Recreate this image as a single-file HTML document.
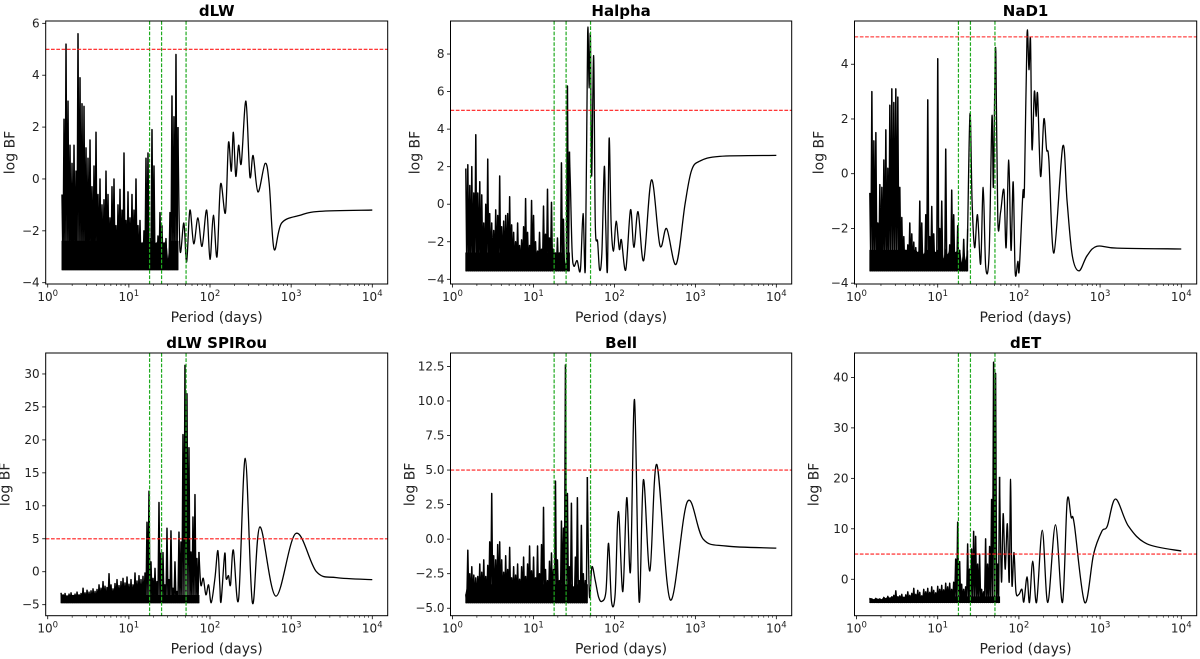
<!DOCTYPE html>
<html><head><meta charset="utf-8"><style>
body{margin:0;background:#fff;}
svg{display:block;font-family:"DejaVu Sans","Liberation Sans",sans-serif;}
</style></head><body>
<svg id="fig" width="1200" height="659" viewBox="0 0 1200 659" xmlns="http://www.w3.org/2000/svg"></svg>
<script>
// ---- data ----
const markerPeriods = [18, 25.3, 50.7];
const thresholdValue = 5;
const xTickExponents = [0, 1, 2, 3, 4];

const dlwNoiseRange = [1.5, 40.3];
const dlwFloor = -3.5;
const dlwBandTop = -2.4;
const dlwNoisePeaks = [-0.6,2.3,5.2,3.0,1.3,0.6,1.3,0.3,5.6,3.9,2.9,2.8,1.2,0.8,1.5,-0.3,0.5,1.8,-0.6,0.0,-1.0,-0.8,0.3,-0.6,-1.5,-0.3,0.0,-1.8,-1.0,-0.4,-1.2,1.0,-1.6,-0.5,-1.5,-0.6,-1.2,0.0,-1.8,-1.6,-2.5,-2.0,0.8,1.0,-2.3,1.9,0.5,-2.5,-2.2,-1.3,-1.8,-2.5,-2.3,-3.3,-1.3,3.2,2.4,4.8,2.0];
const dlwPeriods = [42.6,47.6,51.5,56.5,63,71,79.7,91,100,110,122,135,155,169,183,194,208,225,243,277,310,340,390,478,537,615,763,1290,2240,10000];
const dlwValues = [-2.7,-1.7,-3.2,-1.2,-2.5,-1.5,-2.6,-1.2,-3.1,-1.4,-3.0,-0.2,-1.3,1.4,0.3,1.8,0.1,1.3,0.6,3.0,0.1,0.9,-0.5,0.6,-0.2,-2.7,-1.7,-1.4,-1.25,-1.2];

const halphaNoiseRange = [1.46, 27.8];
const halphaFloor = -3.55;
const halphaBandTop = -2.6;
const halphaNoisePeaks = [1.9,2.1,1.0,2.0,0.6,3.7,0.6,1.2,0.5,-1.0,0.0,2.4,-0.5,-1.0,-1.4,-0.3,-0.6,1.5,-1.2,-0.9,-0.6,-0.5,0.4,-1.1,-1.5,-2.0,-1.0,-2.2,-1.9,-1.2,0.3,-1.5,-2.2,0.2,-0.6,-2.0,-2.5,-1.5,-2.4,-0.1,-1.6,0.8,-1.8,0.1,-2.4,-2.6,-1.8,-2.6,2.2,-0.8,-3.4,6.3,2.8];
const halphaPeriods = [28.6,30,31.6,34.6,38,41,43.8,46.7,48.6,50.5,52.3,55.4,58,62,65.6,70,75,78,82,86,91,97.6,105,115,122,138,158,174,196,230,287,365,442,578,745,897,1140,2000,10000];
const halphaValues = [1.0,-2.5,-3.3,-3.0,-3.5,-0.5,-3.3,9.1,6.2,9.0,1.5,7.9,-1.0,-2.0,-3.5,-2.6,2.0,-1.0,-3.5,3.5,-1.0,-2.5,-0.9,-2.4,-1.9,-3.5,-0.3,-2.3,-0.4,-3.0,1.3,-2.2,-1.3,-3.2,0.0,1.8,2.3,2.55,2.6];

const nad1NoiseRange = [1.46, 23.4];
const nad1Floor = -3.55;
const nad1BandTop = -2.8;
const nad1NoisePeaks = [-0.7,3.0,1.2,1.5,-1.8,-0.4,-0.5,0.5,1.6,0.2,2.5,3.1,2.6,3.1,2.8,-0.5,-1.6,-2.3,-2.8,-2.6,-1.8,-2.2,-2.5,-2.7,-2.9,-1.0,-1.8,-3.0,-1.5,2.7,-2.3,-1.2,-2.2,-2.9,4.2,-2.0,-1.0,-3.2,0.9,-3.0,-2.6,-0.6,-1.5,-2.9,-1.9,-2.8,-3.4,-2.4,-3.3,-2.0];
const nad1Periods = [25,26.5,28.5,30.9,33.8,36.3,39,43,46.6,48.4,50.3,52,55,59.5,65.4,69.6,75,80,85,90,97,101,112,117,126,133,139,145,155,163,170,185,203,219,234,270,347,392,455,550,690,915,1620,10000];
const nad1Values = [2.2,-1.0,-2.7,-1.5,-3.3,-0.5,-3.4,-2.9,2.1,-0.5,2.9,4.4,-1.7,-1.4,-0.6,-2.7,0.5,-2.8,-0.3,-3.6,-3.2,-3.5,-0.7,-0.5,5.1,3.8,4.9,0.9,3.0,2.1,2.9,-0.1,2.0,0.9,0.5,-2.9,1.0,-1.0,-3.0,-3.55,-3.0,-2.65,-2.72,-2.75];

const spirouNoiseRange = [1.46, 73.1];
const spirouFloor = -4.7;
const spirouBandTop = -3.6;
const spirouNoisePeaks = [-3.2,-3.5,-3.3,-3.7,-3.4,-3.2,-3.6,-3.4,-3.1,-3.5,-3.3,-2.5,-3.2,-2.8,-3.1,-2.9,-2.6,-3.0,-2.7,-2.0,-2.5,-1.5,-2.2,-2.4,-0.3,-2.0,-2.6,-1.8,-1.2,-2.1,-1.5,-1.0,-1.7,-0.8,-1.9,-1.2,-2.0,-0.2,-1.4,-0.6,-1.2,-0.7,-0.2,7.5,12.2,1.5,-1.0,0.5,-1.5,10.5,2.8,2.9,-2.0,6.6,-1.2,6.2,-2.5,1.5,-3.0,6.0,4.5,20.8,31.3,27.0,18.8,3.0,8.3,11.7,2.0,3.0];
const spirouPeriods = [77,82.6,89,96,103.5,115,125,132,137,152,158,169,179,194,225,272,333,412,647,1140,2050,3620,10000];
const spirouValues = [-2.0,-1.0,-3.5,-2.0,-4.7,-1.0,3.2,-2.0,-4.5,2.8,-1.0,-0.6,-2.0,3.3,-4.2,17.2,-4.7,6.8,-3.7,5.8,0.0,-0.9,-1.2];

const bellNoiseRange = [1.46, 46.3];
const bellFloor = -4.6;
const bellBandTop = -3.3;
const bellNoisePeaks = [-4.0,-0.8,-2.5,-2.0,-2.6,-2.8,-2.7,-1.8,-2.4,-1.5,-2.7,-1.9,-0.2,3.3,-1.2,-1.5,-0.4,-0.2,-1.5,-2.4,-1.2,-2.2,-0.6,-2.8,-2.0,-2.6,-1.8,-2.9,-2.0,-1.3,-2.7,-1.8,-0.5,-2.3,-1.3,-2.8,-0.5,-2.5,-0.4,2.3,-2.2,-3.0,-1.6,-1.0,-2.2,4.2,-1.5,-3.0,1.3,0.8,12.6,3.3,-2.0,2.6,-3.5,-1.3,3.0,-3.0,1.0,-2.5,-3.0,4.5];
const bellPeriods = [49,52.7,58,63.8,70,78.5,84.7,92,102,112,127,142,158,177,202,228,274,334,490,795,1250,2430,10000];
const bellValues = [-4.0,-2.0,-3.0,-4.2,-4.5,-3.8,-0.3,-4.5,-4.0,2.0,-3.8,3.0,-2.3,10.1,-4.5,4.3,-2.3,5.4,-4.4,2.7,0.0,-0.5,-0.65];

const detNoiseRange = [1.46, 57.8];
const detFloor = -4.6;
const detBandTop = -3.5;
const detNoisePeaks = [-3.8,-3.9,-4.1,-3.8,-4.0,-3.9,-4.1,-3.6,-3.9,-3.4,-3.8,-3.5,-3.2,-2.3,-3.5,-3.3,-3.0,-3.6,-3.1,-2.5,-3.2,-2.8,-1.8,-3.0,-2.2,-2.6,-3.3,-2.0,-2.5,-1.8,-2.6,-1.5,-2.2,-2.7,-1.4,-2.0,-1.2,-2.1,-0.8,-1.5,-0.8,-2.0,-0.6,4.0,11.3,3.5,-1.0,-2.0,-1.5,7.0,2.0,6.0,9.5,8.5,3.0,5.0,-2.0,-2.5,8.0,3.0,6.5,15.8,43.0,40.8,3.0,20.3];
const detPeriods = [61,64,67.7,72,76,79,82,87,92,100,109,115,126,135,148,165,194,227,282,344,393,440,480,646,832,1050,1225,1550,2240,3800,10000];
const detValues = [-0.5,13.0,2.0,11.0,-0.5,19.8,-1.0,5.3,-2.5,-3.0,-2.0,-4.5,0.5,-4.6,3.6,-4.6,9.7,-4.6,10.8,-4.6,15.5,12.3,11.0,-4.6,5.0,9.5,10.5,15.9,10.5,7.0,5.6];

const dlwYTicks = [-4,-2,0,2,4,6];
const halphaYTicks = [-4,-2,0,2,4,6,8];
const nad1YTicks = [-4,-2,0,2,4];
const spirouYTicks = [-5,0,5,10,15,20,25,30];
const bellYTicks = [-5,-2.5,0,2.5,5,7.5,10,12.5];
const detYTicks = [0,10,20,30,40];

// ---- layout ----
const NS = 'http://www.w3.org/2000/svg';
const svg = document.getElementById('fig');
function el(tag, attrs, parent){ const e=document.createElementNS(NS,tag); for(const k in attrs) e.setAttribute(k,attrs[k]); (parent||svg).appendChild(e); return e; }

const panels = [
 {key:'dlw', title:'dLW', x0:45.7, x1:387.7, y0:21, y1:284, ylim:[-4.05,6.09], ticks:dlwYTicks, dec:0, range:dlwNoiseRange, floor:dlwFloor, band:dlwBandTop, peaks:dlwNoisePeaks, per:dlwPeriods, val:dlwValues},
 {key:'halpha', title:'Halpha', x0:450.5, x1:791.7, y0:21, y1:284, ylim:[-4.25,9.76], ticks:halphaYTicks, dec:0, range:halphaNoiseRange, floor:halphaFloor, band:halphaBandTop, peaks:halphaNoisePeaks, per:halphaPeriods, val:halphaValues},
 {key:'nad1', title:'NaD1', x0:854.5, x1:1196.7, y0:21, y1:284, ylim:[-4.03,5.58], ticks:nad1YTicks, dec:0, range:nad1NoiseRange, floor:nad1Floor, band:nad1BandTop, peaks:nad1NoisePeaks, per:nad1Periods, val:nad1Values},
 {key:'dlw-spirou', title:'dLW SPIRou', x0:45.7, x1:387.7, y0:353, y1:615.7, ylim:[-6.67,33.18], ticks:spirouYTicks, dec:0, range:spirouNoiseRange, floor:spirouFloor, band:spirouBandTop, peaks:spirouNoisePeaks, per:spirouPeriods, val:spirouValues},
 {key:'bell', title:'Bell', x0:450.5, x1:791.7, y0:353, y1:615.7, ylim:[-5.54,13.47], ticks:bellYTicks, dec:1, range:bellNoiseRange, floor:bellFloor, band:bellBandTop, peaks:bellNoisePeaks, per:bellPeriods, val:bellValues},
 {key:'det', title:'dET', x0:854.5, x1:1196.7, y0:353, y1:615.7, ylim:[-7.22,44.84], ticks:detYTicks, dec:0, range:detNoiseRange, floor:detFloor, band:detBandTop, peaks:detNoisePeaks, per:detPeriods, val:detValues}
];
const XL = [-0.025, 4.19];

panels.forEach(p=>{
  const g = el('g',{});
  
  
  const xs = v => p.x0 + (Math.log10(v)-XL[0])/(XL[1]-XL[0])*(p.x1-p.x0);
  const xl = l => p.x0 + (l-XL[0])/(XL[1]-XL[0])*(p.x1-p.x0);
  const ys = v => p.y1 - (v-p.ylim[0])/(p.ylim[1]-p.ylim[0])*(p.y1-p.y0);
  const cid = 'clip-'+p.key;
  const cp = el('clipPath',{id:cid},g); el('rect',{x:p.x0,y:p.y0,width:p.x1-p.x0,height:p.y1-p.y0},cp);

  // noisy segment
  const pts = [];
  const l0 = Math.log10(p.range[0]), l1 = Math.log10(p.range[1]);
  const n = p.peaks.length;
  const bandPts = [];
  for(let i=0;i<n;i++){
    const l = l0 + (l1-l0)*i/(n-1);
    pts.push([xl(l), ys(p.peaks[i])]);
    bandPts.push([xl(l), ys(Math.min(p.peaks[i], p.band))]);
    if(i<n-1){ const lm = l0 + (l1-l0)*(i+0.5)/(n-1); pts.push([xl(lm), ys(p.floor)]); }
  }
  const band = el('path',{d:'M'+xl(l0).toFixed(2)+','+ys(p.floor).toFixed(2)+'L'+bandPts.map(q=>q[0].toFixed(2)+','+q[1].toFixed(2)).join('L')+'L'+xl(l1).toFixed(2)+','+ys(p.floor).toFixed(2)+'Z',fill:'#000',stroke:'#000','stroke-width':1,'clip-path':'url(#'+cid+')'},g);
  
  
  const noise = el('path',{d:'M'+pts.map(q=>q[0].toFixed(2)+','+q[1].toFixed(2)).join('L'),fill:'none',stroke:'#000','stroke-width':1.5,'stroke-linejoin':'round','clip-path':'url(#'+cid+')'},g);
  
  

  // smooth part via Catmull-Rom
  const sp = [pts[pts.length-1]].concat(p.per.map((v,i)=>[xs(v), ys(p.val[i])]));
  let d = 'M'+sp[0][0].toFixed(2)+','+sp[0][1].toFixed(2);
  for(let i=0;i<sp.length-1;i++){
    const a=sp[Math.max(0,i-1)], b=sp[i], c=sp[i+1], e=sp[Math.min(sp.length-1,i+2)];
    const c1=[b[0]+(c[0]-a[0])/6, b[1]+(c[1]-a[1])/6], c2=[c[0]-(e[0]-b[0])/6, c[1]-(e[1]-b[1])/6];
    d += 'C'+c1[0].toFixed(2)+','+c1[1].toFixed(2)+' '+c2[0].toFixed(2)+','+c2[1].toFixed(2)+' '+c[0].toFixed(2)+','+c[1].toFixed(2);
  }
  const line = el('path',{d:d,fill:'none',stroke:'#000','stroke-width':1.3,'stroke-linejoin':'round','clip-path':'url(#'+cid+')'},g);
  
  

  // markers
  markerPeriods.forEach(mp=>{
    const m = el('line',{x1:xs(mp),x2:xs(mp),y1:p.y0,y2:p.y1,stroke:'#1faa1f','stroke-width':1.2,'stroke-dasharray':'3.7,1.6'},g);
    
    
  });
  const th = el('line',{x1:p.x0,x2:p.x1,y1:ys(thresholdValue),y2:ys(thresholdValue),stroke:'#ff1a1a','stroke-width':1.1,'stroke-dasharray':'3.7,1.6'},g);
  
  

  // frame
  const fr = el('rect',{x:p.x0,y:p.y0,width:p.x1-p.x0,height:p.y1-p.y0,fill:'none',stroke:'#000','stroke-width':1},g);
  
  

  // x ticks
  xTickExponents.forEach(ex=>{
    const x = xl(ex);
    el('line',{x1:x,x2:x,y1:p.y1,y2:p.y1+3.5,stroke:'#000','stroke-width':0.8},g);
    const t = el('text',{x:x,y:p.y1+17,'font-size':12,'text-anchor':'middle',fill:'#222'},g);
    
    
    t.appendChild(document.createTextNode('10'));
    const s = el('tspan',{dy:-5,'font-size':8.5},t); s.textContent = ex;
    if(ex<4) for(let k=2;k<10;k++){ const xm=xl(ex+Math.log10(k)); el('line',{x1:xm,x2:xm,y1:p.y1,y2:p.y1+2,stroke:'#000','stroke-width':0.6},g); }
  });
  // y ticks
  p.ticks.forEach(v=>{
    const y = ys(v);
    el('line',{x1:p.x0-3.5,x2:p.x0,y1:y,y2:y,stroke:'#000','stroke-width':0.8},g);
    const t = el('text',{x:p.x0-6,y:y+4,'font-size':12,'text-anchor':'end',fill:'#222'},g);
    
    
    t.textContent = (v<0?'\u2212':'')+Math.abs(v).toFixed(p.dec);
  });
  const tt = el('text',{x:(p.x0+p.x1)/2,y:p.y0-5,'font-size':15,'font-weight':'bold','text-anchor':'middle'},g);
  
  
  tt.textContent = p.title;
  const xlab = el('text',{x:(p.x0+p.x1)/2,y:p.y1+38,'font-size':14,'text-anchor':'middle',fill:'#222'},g);
  
  
  xlab.textContent = 'Period (days)';
  const ylx = p.x0 - (p.dec||p.key==='dlw-spirou'||p.key==='det' ? 36 : 31);
  const ylab = el('text',{x:ylx,y:(p.y0+p.y1)/2,'font-size':14,'text-anchor':'middle',fill:'#222',transform:'rotate(-90 '+ylx+' '+((p.y0+p.y1)/2)+')'},g);
  
  
  ylab.textContent = 'log BF';
});
</script>
</body></html>
